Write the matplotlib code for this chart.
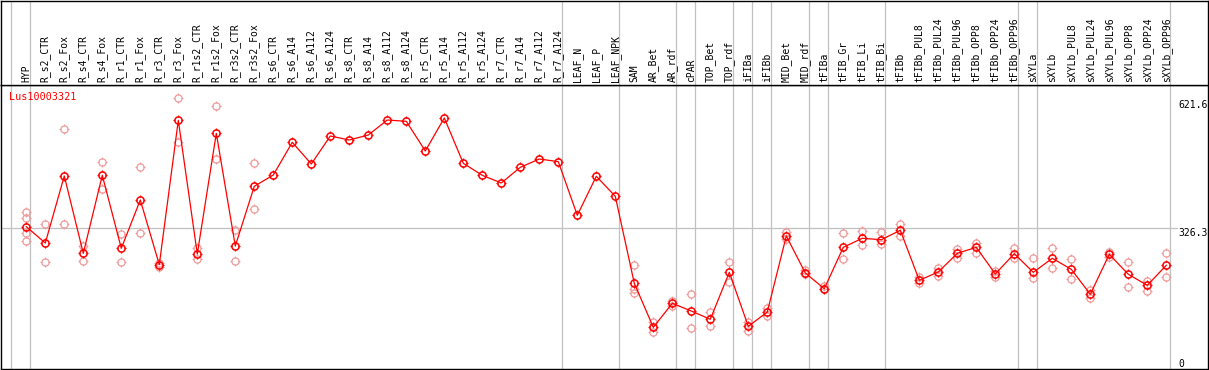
import matplotlib
matplotlib.use("Agg")
import matplotlib.pyplot as plt
from matplotlib.path import Path
import numpy as np

# ---------------- data ----------------
categories = [
    "HYP", "R_s2_CTR", "R_s2_Fox", "R_s4_CTR", "R_s4_Fox", "R_r1_CTR", "R_r1_Fox",
    "R_r3_CTR", "R_r3_Fox", "R_r1s2_CTR", "R_r1s2_Fox", "R_r3s2_CTR", "R_r3s2_Fox",
    "R_s6_CTR", "R_s6_A14", "R_s6_A112", "R_s6_A124", "R_s8_CTR", "R_s8_A14",
    "R_s8_A112", "R_s8_A124", "R_r5_CTR", "R_r5_A14", "R_r5_A112", "R_r5_A124",
    "R_r7_CTR", "R_r7_A14", "R_r7_A112", "R_r7_A124", "LEAF_N", "LEAF_P", "LEAF_NPK",
    "SAM", "AR_Bet", "AR_rdf", "cPAR", "TOP_Bet", "TOP_rdf", "iFIBa", "iFIBb",
    "MID_Bet", "MID_rdf", "tFIBa", "tFIB_Gr", "tFIB_Li", "tFIB_Bi", "tFIBb",
    "tFIBb_PUL8", "tFIBb_PUL24", "tFIBb_PUL96", "tFIBb_OPP8", "tFIBb_OPP24",
    "tFIBb_OPP96", "sXYLa", "sXYLb", "sXYLb_PUL8", "sXYLb_PUL24", "sXYLb_PUL96",
    "sXYLb_OPP8", "sXYLb_OPP24", "sXYLb_OPP96",
]

mean_values = [
    329.3, 291.6, 446.7, 267.7, 448.2, 279.3, 391.1, 241.4, 575.5, 266.1, 545.4,
    284.7, 422.8, 449.0, 524.6, 474.4, 539.2, 530.0, 541.5, 576.2, 573.2, 504.5,
    580.9, 476.0, 448.2, 430.5, 466.7, 486.0, 479.8, 355.7, 446.0, 399.6, 198.3,
    96.5, 152.0, 134.2, 115.0, 223.7, 98.8, 131.9, 307.8, 222.2, 185.8, 281.6,
    302.5, 299.2, 321.0, 205.3, 224.5, 267.7, 281.6, 219.9, 266.9, 223.7, 256.2,
    230.7, 172.9, 265.4, 219.2, 193.7, 240.0,
]

replicates = [
    [362.6, 348.7, 314.0, 296.9], [334.9, 246.9], [554.7, 334.9], [284.7, 249.2],
    [479.1, 417.3], [311.7, 246.9], [466.7, 314.0], [236.8, 244.6], [626.4, 526.1],
    [279.3, 253.9], [608.7, 485.3], [321.7, 249.2], [476.0, 369.6],
    [], [], [], [], [], [], [], [], [], [], [], [], [], [], [], [], [], [], [],
    [240.0, 184.4, 175.2], [108.1, 86.4], [158.2, 146.6], [173.6, 94.1],
    [132.7, 98.8], [246.9, 201.3], [108.1, 88.7], [140.4, 123.4], [317.1, 301.6],
    [228.4, 219.2], [192.1, 184.4], [314.0, 254.6], [319.4, 286.3], [316.4, 290.0],
    [335.6, 307.1], [213.6, 199.7], [233.0, 215.9], [277.0, 257.6], [292.3, 268.5],
    [226.8, 212.2], [279.3, 256.2], [256.2, 209.9], [279.3, 233.0], [253.9, 207.6],
    [182.8, 163.6], [271.5, 258.5], [246.9, 189.8], [204.3, 181.2], [267.7, 212.2],
]

group_sizes = [1, 28, 3, 3, 1, 2, 1, 1, 2, 1, 3, 7, 1, 7]
title = "Lus10003321"
ref_value = 326.3
max_value = 621.6

# ---------------- layout ----------------
W, H = 1209, 370
fig = plt.figure(figsize=(W / 100, H / 100), dpi=100)
fig.patch.set_facecolor("white")


def px_axes(x0, y0, x1, y1):
    return fig.add_axes([x0 / W, 1 - y1 / H, (x1 - x0) / W, (y1 - y0) / H])


ax = px_axes(0.5, 85, 1207.5, 369)
hdr = px_axes(0.5, 0.5, 1207.5, 85)

n = len(categories)
x = np.arange(n)
first_px, step_px = 26.3, 19.0
xlim = ((0.5 - first_px) / step_px, (1207.5 - first_px) / step_px)
ylim = (0, 284 / (141 / ref_value))

for a in (ax, hdr):
    a.set_xlim(*xlim)
    a.set_xticks([])
    a.set_yticks([])
    for s in a.spines.values():
        s.set_color("black")
        s.set_linewidth(1.0)
ax.set_ylim(*ylim)
hdr.set_ylim(0, 1)

grid_c = "#c0c0c0"
bounds = np.cumsum([0] + group_sizes) - 1 + 0.21
for b in bounds:
    ax.axvline(b, color=grid_c, lw=0.9, zorder=1)
    hdr.axvline(b, color=grid_c, lw=0.9, zorder=1)

ax.axhline(ref_value, xmax=(1177 - 0.5) / 1207, color=grid_c, lw=0.9, zorder=1)

mono = "DejaVu Sans Mono"
for xi, lab in zip(x, categories):
    hdr.text(xi, 0.03, lab, rotation=90, ha="center", va="bottom",
             fontsize=7, family=mono, color="black")

# markers
r_in = 0.62
tick_path = Path(
    [(0, r_in), (0, 1), (0, -r_in), (0, -1), (r_in, 0), (1, 0), (-r_in, 0), (-1, 0)],
    [Path.MOVETO, Path.LINETO] * 4,
)

pink = "#ee9a9a"
rx = [xi for xi, reps in zip(x, replicates) for _ in reps]
ry = [v for reps in replicates for v in reps]
ax.plot(rx, ry, ls="none", marker="o", ms=5.2, mfc="none", mec=pink, mew=0.9, zorder=2)
ax.plot(rx, ry, ls="none", marker=tick_path, ms=7.6, mec=pink, mew=0.8, zorder=2)

ax.plot(x, mean_values, color="red", lw=0.9, zorder=3)
ax.plot(x, mean_values, ls="none", marker="o", ms=5.2, mfc="none", mec="red", mew=1.1, zorder=4)
ax.plot(x, mean_values, ls="none", marker=tick_path, ms=7.6, mec="red", mew=0.9, zorder=4)

ax.text((9 - 0.5) / 1207, (369 - 91.5) / 284, title, transform=ax.transAxes,
        ha="left", va="top", fontsize=7.3, family=mono, color="red")

lx = n - 1 + (1178.3 - 1166.3) / step_px
ax.text(lx, max_value, f"{max_value:.1f}", ha="left", va="top", fontsize=7, family=mono)
ax.text(lx, ref_value, f"{ref_value:.1f}", ha="left", va="top", fontsize=7, family=mono)
ax.text(lx, 0, "0", ha="left", va="bottom", fontsize=7, family=mono)

fig.savefig("out.png", dpi=100, facecolor="white")
